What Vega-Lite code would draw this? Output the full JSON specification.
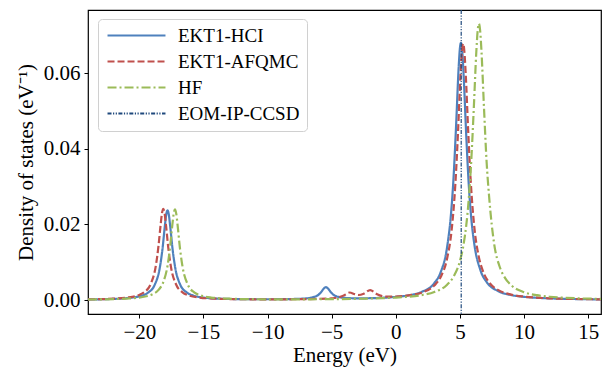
{
  "$schema": "https://vega.github.io/schema/vega-lite/v6.json",
  "width": 513,
  "height": 304,
  "autosize": "none",
  "padding": {"left": 88, "top": 10, "right": 5, "bottom": 53},
  "background": "white",
  "config": {
    "view": {"stroke": "black", "strokeWidth": 1.2},
    "axis": {"labelFont": "Liberation Serif", "labelFontSize": 21, "titleFont": "Liberation Serif", "titleFontSize": 21, "titleFontWeight": "normal", "tickColor": "black", "tickSize": 4, "tickWidth": 1, "domain": false, "grid": false, "labelColor": "black", "titleColor": "black", "labelPadding": 4},
    "legend": {"labelFont": "Liberation Serif", "labelFontSize": 19, "labelColor": "black", "labelLimit": 400}
  },
  "datasets": {
    "curves": [
      {"series": "EKT1-HCI", "energy": -24, "dos": 0.00015},
      {"series": "EKT1-HCI", "energy": -22, "dos": 0.0003},
      {"series": "EKT1-HCI", "energy": -21, "dos": 0.00049},
      {"series": "EKT1-HCI", "energy": -20, "dos": 0.00098},
      {"series": "EKT1-HCI", "energy": -19.3, "dos": 0.00199},
      {"series": "EKT1-HCI", "energy": -18.8, "dos": 0.00401},
      {"series": "EKT1-HCI", "energy": -18.4, "dos": 0.00856},
      {"series": "EKT1-HCI", "energy": -18.2, "dos": 0.01328},
      {"series": "EKT1-HCI", "energy": -18.0, "dos": 0.0198},
      {"series": "EKT1-HCI", "energy": -17.9, "dos": 0.0226},
      {"series": "EKT1-HCI", "energy": -17.8, "dos": 0.0237},
      {"series": "EKT1-HCI", "energy": -17.7, "dos": 0.0226},
      {"series": "EKT1-HCI", "energy": -17.6, "dos": 0.0198},
      {"series": "EKT1-HCI", "energy": -17.4, "dos": 0.01328},
      {"series": "EKT1-HCI", "energy": -17.2, "dos": 0.00856},
      {"series": "EKT1-HCI", "energy": -16.8, "dos": 0.004},
      {"series": "EKT1-HCI", "energy": -16.3, "dos": 0.002},
      {"series": "EKT1-HCI", "energy": -15.8, "dos": 0.00118},
      {"series": "EKT1-HCI", "energy": -15, "dos": 0.00065},
      {"series": "EKT1-HCI", "energy": -14, "dos": 0.00039},
      {"series": "EKT1-HCI", "energy": -12, "dos": 0.00023},
      {"series": "EKT1-HCI", "energy": -10, "dos": 0.0002},
      {"series": "EKT1-HCI", "energy": -8, "dos": 0.00027},
      {"series": "EKT1-HCI", "energy": -7, "dos": 0.00043},
      {"series": "EKT1-HCI", "energy": -6.5, "dos": 0.00069},
      {"series": "EKT1-HCI", "energy": -6.0, "dos": 0.00148},
      {"series": "EKT1-HCI", "energy": -5.8, "dos": 0.0022},
      {"series": "EKT1-HCI", "energy": -5.6, "dos": 0.00308},
      {"series": "EKT1-HCI", "energy": -5.45, "dos": 0.0034},
      {"series": "EKT1-HCI", "energy": -5.3, "dos": 0.0031},
      {"series": "EKT1-HCI", "energy": -5.1, "dos": 0.0022},
      {"series": "EKT1-HCI", "energy": -4.9, "dos": 0.0015},
      {"series": "EKT1-HCI", "energy": -4.4, "dos": 0.00076},
      {"series": "EKT1-HCI", "energy": -4, "dos": 0.00056},
      {"series": "EKT1-HCI", "energy": -3, "dos": 0.00044},
      {"series": "EKT1-HCI", "energy": -2, "dos": 0.00048},
      {"series": "EKT1-HCI", "energy": -1, "dos": 0.0006},
      {"series": "EKT1-HCI", "energy": 0, "dos": 0.00083},
      {"series": "EKT1-HCI", "energy": 1, "dos": 0.00124},
      {"series": "EKT1-HCI", "energy": 2, "dos": 0.00212},
      {"series": "EKT1-HCI", "energy": 3, "dos": 0.00446},
      {"series": "EKT1-HCI", "energy": 3.5, "dos": 0.00735},
      {"series": "EKT1-HCI", "energy": 4.0, "dos": 0.014},
      {"series": "EKT1-HCI", "energy": 4.3, "dos": 0.0226},
      {"series": "EKT1-HCI", "energy": 4.5, "dos": 0.0322},
      {"series": "EKT1-HCI", "energy": 4.7, "dos": 0.046},
      {"series": "EKT1-HCI", "energy": 4.9, "dos": 0.0614},
      {"series": "EKT1-HCI", "energy": 5.0, "dos": 0.0666},
      {"series": "EKT1-HCI", "energy": 5.08, "dos": 0.068},
      {"series": "EKT1-HCI", "energy": 5.2, "dos": 0.0649},
      {"series": "EKT1-HCI", "energy": 5.3, "dos": 0.0586},
      {"series": "EKT1-HCI", "energy": 5.5, "dos": 0.043},
      {"series": "EKT1-HCI", "energy": 5.7, "dos": 0.0299},
      {"series": "EKT1-HCI", "energy": 5.9, "dos": 0.0211},
      {"series": "EKT1-HCI", "energy": 6.1, "dos": 0.0153},
      {"series": "EKT1-HCI", "energy": 6.6, "dos": 0.00787},
      {"series": "EKT1-HCI", "energy": 7.1, "dos": 0.00469},
      {"series": "EKT1-HCI", "energy": 8, "dos": 0.00233},
      {"series": "EKT1-HCI", "energy": 9, "dos": 0.00131},
      {"series": "EKT1-HCI", "energy": 10, "dos": 0.00084},
      {"series": "EKT1-HCI", "energy": 11, "dos": 0.00058},
      {"series": "EKT1-HCI", "energy": 12, "dos": 0.00043},
      {"series": "EKT1-HCI", "energy": 14, "dos": 0.00026},
      {"series": "EKT1-HCI", "energy": 16, "dos": 0.00017},

      {"series": "EKT1-AFQMC", "energy": -24, "dos": 0.00017},
      {"series": "EKT1-AFQMC", "energy": -22, "dos": 0.00035},
      {"series": "EKT1-AFQMC", "energy": -21, "dos": 0.00061},
      {"series": "EKT1-AFQMC", "energy": -20, "dos": 0.00135},
      {"series": "EKT1-AFQMC", "energy": -19.6, "dos": 0.0021},
      {"series": "EKT1-AFQMC", "energy": -19.1, "dos": 0.0043},
      {"series": "EKT1-AFQMC", "energy": -18.7, "dos": 0.00929},
      {"series": "EKT1-AFQMC", "energy": -18.5, "dos": 0.01442},
      {"series": "EKT1-AFQMC", "energy": -18.33, "dos": 0.02016},
      {"series": "EKT1-AFQMC", "energy": -18.23, "dos": 0.023},
      {"series": "EKT1-AFQMC", "energy": -18.13, "dos": 0.02414},
      {"series": "EKT1-AFQMC", "energy": -18.03, "dos": 0.023},
      {"series": "EKT1-AFQMC", "energy": -17.93, "dos": 0.02016},
      {"series": "EKT1-AFQMC", "energy": -17.73, "dos": 0.0135},
      {"series": "EKT1-AFQMC", "energy": -17.53, "dos": 0.00872},
      {"series": "EKT1-AFQMC", "energy": -17.13, "dos": 0.00409},
      {"series": "EKT1-AFQMC", "energy": -16.63, "dos": 0.00203},
      {"series": "EKT1-AFQMC", "energy": -16.13, "dos": 0.0012},
      {"series": "EKT1-AFQMC", "energy": -15.3, "dos": 0.00065},
      {"series": "EKT1-AFQMC", "energy": -14, "dos": 0.00035},
      {"series": "EKT1-AFQMC", "energy": -12, "dos": 0.00021},
      {"series": "EKT1-AFQMC", "energy": -10, "dos": 0.00017},
      {"series": "EKT1-AFQMC", "energy": -8, "dos": 0.0002},
      {"series": "EKT1-AFQMC", "energy": -6, "dos": 0.00029},
      {"series": "EKT1-AFQMC", "energy": -5, "dos": 0.00045},
      {"series": "EKT1-AFQMC", "energy": -4.5, "dos": 0.00068},
      {"series": "EKT1-AFQMC", "energy": -4.1, "dos": 0.00113},
      {"series": "EKT1-AFQMC", "energy": -3.6, "dos": 0.00198},
      {"series": "EKT1-AFQMC", "energy": -3.2, "dos": 0.00154},
      {"series": "EKT1-AFQMC", "energy": -2.9, "dos": 0.00133},
      {"series": "EKT1-AFQMC", "energy": -2.5, "dos": 0.00167},
      {"series": "EKT1-AFQMC", "energy": -2.0, "dos": 0.00264},
      {"series": "EKT1-AFQMC", "energy": -1.5, "dos": 0.0016},
      {"series": "EKT1-AFQMC", "energy": -1.0, "dos": 0.00101},
      {"series": "EKT1-AFQMC", "energy": -0.5, "dos": 0.00088},
      {"series": "EKT1-AFQMC", "energy": 0, "dos": 0.00091},
      {"series": "EKT1-AFQMC", "energy": 1, "dos": 0.00121},
      {"series": "EKT1-AFQMC", "energy": 2, "dos": 0.00194},
      {"series": "EKT1-AFQMC", "energy": 3, "dos": 0.00384},
      {"series": "EKT1-AFQMC", "energy": 3.5, "dos": 0.0061},
      {"series": "EKT1-AFQMC", "energy": 4.0, "dos": 0.011},
      {"series": "EKT1-AFQMC", "energy": 4.35, "dos": 0.0184},
      {"series": "EKT1-AFQMC", "energy": 4.65, "dos": 0.031},
      {"series": "EKT1-AFQMC", "energy": 4.85, "dos": 0.0443},
      {"series": "EKT1-AFQMC", "energy": 5.05, "dos": 0.0599},
      {"series": "EKT1-AFQMC", "energy": 5.15, "dos": 0.0656},
      {"series": "EKT1-AFQMC", "energy": 5.25, "dos": 0.0678},
      {"series": "EKT1-AFQMC", "energy": 5.35, "dos": 0.0656},
      {"series": "EKT1-AFQMC", "energy": 5.45, "dos": 0.0599},
      {"series": "EKT1-AFQMC", "energy": 5.65, "dos": 0.0443},
      {"series": "EKT1-AFQMC", "energy": 5.85, "dos": 0.031},
      {"series": "EKT1-AFQMC", "energy": 6.15, "dos": 0.0184},
      {"series": "EKT1-AFQMC", "energy": 6.45, "dos": 0.0118},
      {"series": "EKT1-AFQMC", "energy": 6.85, "dos": 0.00717},
      {"series": "EKT1-AFQMC", "energy": 7.3, "dos": 0.00455},
      {"series": "EKT1-AFQMC", "energy": 8, "dos": 0.00261},
      {"series": "EKT1-AFQMC", "energy": 9, "dos": 0.00143},
      {"series": "EKT1-AFQMC", "energy": 10, "dos": 0.0009},
      {"series": "EKT1-AFQMC", "energy": 11, "dos": 0.00062},
      {"series": "EKT1-AFQMC", "energy": 12, "dos": 0.00045},
      {"series": "EKT1-AFQMC", "energy": 14, "dos": 0.00027},
      {"series": "EKT1-AFQMC", "energy": 16, "dos": 0.00018},

      {"series": "HF", "energy": -24, "dos": 0.00013},
      {"series": "HF", "energy": -22, "dos": 0.00024},
      {"series": "HF", "energy": -21, "dos": 0.00037},
      {"series": "HF", "energy": -20, "dos": 0.00065},
      {"series": "HF", "energy": -19, "dos": 0.00147},
      {"series": "HF", "energy": -18.5, "dos": 0.00267},
      {"series": "HF", "energy": -18.1, "dos": 0.005},
      {"series": "HF", "energy": -17.8, "dos": 0.00902},
      {"series": "HF", "energy": -17.62, "dos": 0.0134},
      {"series": "HF", "energy": -17.42, "dos": 0.02},
      {"series": "HF", "energy": -17.32, "dos": 0.02283},
      {"series": "HF", "energy": -17.22, "dos": 0.02395},
      {"series": "HF", "energy": -17.12, "dos": 0.02283},
      {"series": "HF", "energy": -17.02, "dos": 0.02},
      {"series": "HF", "energy": -16.82, "dos": 0.01341},
      {"series": "HF", "energy": -16.62, "dos": 0.00865},
      {"series": "HF", "energy": -16.22, "dos": 0.00407},
      {"series": "HF", "energy": -15.72, "dos": 0.00202},
      {"series": "HF", "energy": -15.22, "dos": 0.00121},
      {"series": "HF", "energy": -14.4, "dos": 0.00065},
      {"series": "HF", "energy": -13, "dos": 0.00034},
      {"series": "HF", "energy": -11, "dos": 0.00021},
      {"series": "HF", "energy": -9, "dos": 0.00018},
      {"series": "HF", "energy": -7, "dos": 0.00019},
      {"series": "HF", "energy": -5, "dos": 0.00023},
      {"series": "HF", "energy": -3, "dos": 0.00032},
      {"series": "HF", "energy": -1, "dos": 0.00049},
      {"series": "HF", "energy": 0, "dos": 0.00064},
      {"series": "HF", "energy": 1, "dos": 0.00088},
      {"series": "HF", "energy": 2, "dos": 0.0013},
      {"series": "HF", "energy": 3, "dos": 0.00212},
      {"series": "HF", "energy": 4, "dos": 0.00405},
      {"series": "HF", "energy": 4.5, "dos": 0.00616},
      {"series": "HF", "energy": 5, "dos": 0.01033},
      {"series": "HF", "energy": 5.3, "dos": 0.01503},
      {"series": "HF", "energy": 5.5, "dos": 0.01994},
      {"series": "HF", "energy": 5.7, "dos": 0.02718},
      {"series": "HF", "energy": 5.88, "dos": 0.03656},
      {"series": "HF", "energy": 6.08, "dos": 0.0506},
      {"series": "HF", "energy": 6.28, "dos": 0.0658},
      {"series": "HF", "energy": 6.38, "dos": 0.0711},
      {"series": "HF", "energy": 6.48, "dos": 0.0731},
      {"series": "HF", "energy": 6.58, "dos": 0.0711},
      {"series": "HF", "energy": 6.68, "dos": 0.0658},
      {"series": "HF", "energy": 6.88, "dos": 0.0506},
      {"series": "HF", "energy": 7.08, "dos": 0.03656},
      {"series": "HF", "energy": 7.28, "dos": 0.02718},
      {"series": "HF", "energy": 7.68, "dos": 0.0146},
      {"series": "HF", "energy": 8.08, "dos": 0.009},
      {"series": "HF", "energy": 8.5, "dos": 0.00593},
      {"series": "HF", "energy": 9, "dos": 0.00392},
      {"series": "HF", "energy": 10, "dos": 0.00206},
      {"series": "HF", "energy": 11, "dos": 0.00127},
      {"series": "HF", "energy": 12, "dos": 0.00086},
      {"series": "HF", "energy": 13, "dos": 0.00062},
      {"series": "HF", "energy": 14, "dos": 0.00047},
      {"series": "HF", "energy": 16, "dos": 0.00029}
    ],
    "eom": [
      {"series": "EOM-IP-CCSD", "energy": 5.1}
    ]
  },
  "layer": [
    {
      "data": {"name": "curves"},
      "mark": {"type": "line", "strokeWidth": 2.2, "interpolate": "monotone", "clip": true},
      "encoding": {
        "x": {"field": "energy", "type": "quantitative", "scale": {"domain": [-24, 16], "nice": false, "zero": false},
              "axis": {"values": [-20, -15, -10, -5, 0, 5, 10, 15], "format": "d", "title": "Energy (eV)", "titlePadding": 2, "labelPadding": 3}},
        "y": {"field": "dos", "type": "quantitative", "scale": {"domain": [-0.0037, 0.0767], "nice": false, "zero": false},
              "axis": {"values": [0, 0.02, 0.04, 0.06], "format": ".2f", "title": "Density of states (eV⁻¹)", "titlePadding": 7}},
        "color": {"field": "series", "type": "nominal",
                  "scale": {"domain": ["EKT1-HCI", "EKT1-AFQMC", "HF", "EOM-IP-CCSD"], "range": ["#4F81BD", "#C0504D", "#9BBB59", "#1F497D"]},
                  "legend": {"title": null, "orient": "none", "legendX": 10, "legendY": 9, "symbolType": "M-4,0H4", "symbolSize": 210, "symbolStrokeWidth": 2, "symbolOffset": 22, "labelOffset": 32, "padding": 7, "rowPadding": 6, "fillColor": "rgba(255,255,255,0.85)", "strokeColor": "#d0d0d0", "cornerRadius": 4}},
        "strokeDash": {"field": "series", "type": "nominal",
                       "scale": {"domain": ["EKT1-HCI", "EKT1-AFQMC", "HF", "EOM-IP-CCSD"], "range": [[1, 0], [7, 3], [9, 3, 2, 3], [4, 1.5, 1.2, 1.5, 1.2, 1.5]]},
                       "legend": {"title": null, "orient": "none", "legendX": 10, "legendY": 9, "symbolType": "M-4,0H4", "symbolSize": 210, "symbolStrokeWidth": 2, "symbolOffset": 22, "labelOffset": 32, "padding": 7, "rowPadding": 6, "fillColor": "rgba(255,255,255,0.85)", "strokeColor": "#d0d0d0", "cornerRadius": 4}},
        "order": {"field": "energy", "type": "quantitative"}
      }
    },
    {
      "data": {"name": "eom"},
      "mark": {"type": "rule", "strokeWidth": 1.2, "clip": true},
      "encoding": {
        "x": {"field": "energy", "type": "quantitative"},
        "color": {"field": "series", "type": "nominal"},
        "strokeDash": {"field": "series", "type": "nominal"}
      }
    }
  ]
}
